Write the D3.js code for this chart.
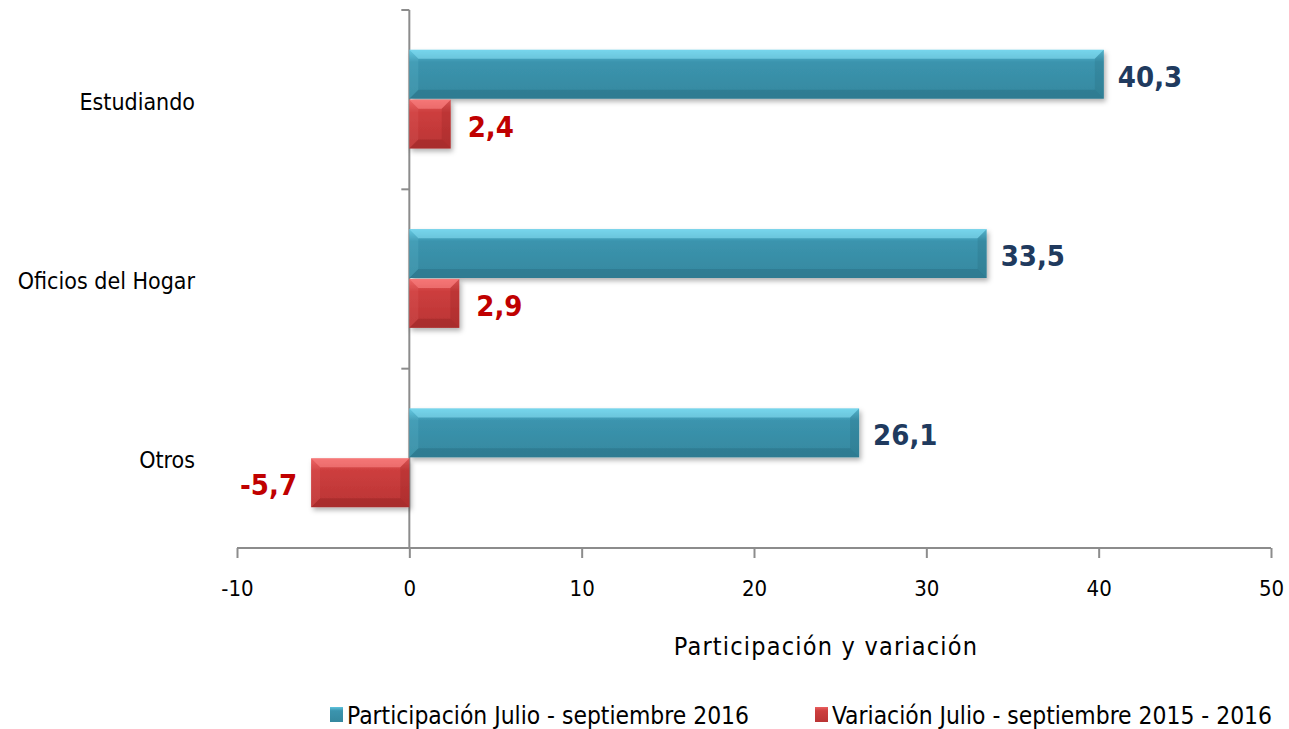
<!DOCTYPE html>
<html>
<head>
<meta charset="utf-8">
<script src="https://cdn.jsdelivr.net/npm/d3@7"></script>
<style>
body{margin:0;background:#fff;}
text{font-family:"Liberation Sans Narrow","DejaVu Sans Condensed",sans-serif;}
</style>
</head>
<body>
<svg width="1289" height="729"></svg>
<script>
// datos
var categorias = ['Estudiando','Oficios del Hogar','Otros'];
var participacion = [40.3, 33.5, 26.1];
var variacion = [2.4, 2.9, -5.7];
var ticksX = [-10,0,10,20,30,40,50];
var series = ['Participación Julio - septiembre 2016','Variación Julio - septiembre 2015 - 2016'];

var svg = d3.select('svg');
var x = d3.scaleLinear().domain([-10,50]).range([237,1271]);
var y = d3.scaleBand().domain(categorias).range([10,548]).paddingInner(0.444).paddingOuter(0.222);
var sub = d3.scaleBand().domain([0,1]).range([0,y.bandwidth()]);

var defs = svg.append('defs');
function grad(id, c1, c2, c3){
  var g = defs.append('linearGradient').attr('id',id).attr('x1',0).attr('y1',0).attr('x2',0).attr('y2',1);
  g.append('stop').attr('offset','0%').attr('stop-color',c1);
  g.append('stop').attr('offset','25%').attr('stop-color',c2);
  g.append('stop').attr('offset','100%').attr('stop-color',c3);
}
grad('gb','#5fc4de','#3b94ae','#35889f');
grad('gr','#ea6060','#cd3e3e','#ba3434');
var f = defs.append('filter').attr('id','sh').attr('x','-10%').attr('y','-20%').attr('width','130%').attr('height','160%');
f.append('feDropShadow').attr('dx',2).attr('dy',3).attr('stdDeviation',2.5).attr('flood-color','#000').attr('flood-opacity',0.3);

// ejes
var gy = svg.append('g').attr('transform','translate('+x(0)+',0)');
gy.append('line').attr('x1',0).attr('x2',0).attr('y1',10).attr('y2',548).attr('stroke','#8c8c8c').attr('stroke-width',2);
var yt = d3.range(4).map(function(i){return 10 + i*(538/3);});
gy.selectAll('.yt').data(yt).enter().append('line').attr('x1',-8).attr('x2',0).attr('y1',function(d){return d;}).attr('y2',function(d){return d;}).attr('stroke','#8c8c8c').attr('stroke-width',2);

var gx = svg.append('g').attr('transform','translate(0,548)');
var ax = d3.axisBottom(x).tickValues(ticksX).tickSize(10).tickPadding(22).tickFormat(function(d){return String(d);});
gx.call(ax);
gx.select('.domain').attr('stroke','#8c8c8c').attr('stroke-width',2).attr('d','M237,0H1271');
gx.selectAll('.tick line').attr('stroke','#8c8c8c').attr('stroke-width',2);
gx.selectAll('.tick text').attr('font-size',22).attr('fill','#000').style('font-family','"Liberation Sans Narrow","DejaVu Sans Condensed",sans-serif');

// etiquetas categorias
svg.selectAll('.cat').data(categorias).enter().append('text')
  .attr('x',195).attr('y',function(d){return y(d)+y.bandwidth()/2+10;})
  .attr('text-anchor','end').attr('font-size',23).attr('fill','#000').text(function(d){return d;});

// barras
function barra(g, x0, x1, y0, h, fill, light, dark){
  var b = 9;
  var left = Math.min(x0,x1), w = Math.abs(x1-x0);
  g.append('rect').attr('x',left).attr('y',y0).attr('width',w).attr('height',h).attr('fill','url(#'+fill+')').attr('filter','url(#sh)');
  g.append('polygon').attr('points',[[left,y0],[left+w,y0],[left+w-b,y0+b],[left+b,y0+b]].join(' ')).attr('fill',light).attr('opacity',0.55);
  g.append('polygon').attr('points',[[left,y0+h],[left+w,y0+h],[left+w-b,y0+h-b],[left+b,y0+h-b]].join(' ')).attr('fill',dark).attr('opacity',0.22);
  g.append('polygon').attr('points',[[left+w,y0],[left+w,y0+h],[left+w-b,y0+h-b],[left+w-b,y0+b]].join(' ')).attr('fill',dark).attr('opacity',0.15);
  g.append('polygon').attr('points',[[left,y0],[left,y0+h],[left+b,y0+h-b],[left+b,y0+b]].join(' ')).attr('fill',light).attr('opacity',0.12);
}
var gb = svg.append('g');
categorias.forEach(function(c,i){
  var h = sub.bandwidth();
  barra(gb, x(0), x(participacion[i]), y(c)+sub(0), h-1, 'gb', '#8ae4f8', '#1d4f5f');
  barra(gb, x(0), x(variacion[i]), y(c)+sub(1), h-1, 'gr', '#ff8a8a', '#6a1010');
});

var fmt = function(v){return v.toFixed(1).replace('.',',');};
svg.selectAll('.lp').data(participacion).enter().append('text')
  .attr('x',function(d){return x(d)+14;})
  .attr('y',function(d,i){return y(categorias[i])+sub(0)+sub.bandwidth()/2+12;})
  .attr('font-size',29).attr('font-weight','bold').attr('fill','#203a5e').text(fmt);
svg.selectAll('.lv').data(variacion).enter().append('text')
  .attr('x',function(d){return d<0 ? x(d)-14 : x(d)+17;})
  .attr('text-anchor',function(d){return d<0?'end':'start';})
  .attr('y',function(d,i){return y(categorias[i])+sub(1)+sub.bandwidth()/2+12;})
  .attr('font-size',29).attr('font-weight','bold').attr('fill','#c00000').text(fmt);

// titulo eje
svg.append('text').attr('x',826).attr('y',655).attr('text-anchor','middle').attr('font-size',25)
  .attr('letter-spacing',1.2).attr('fill','#000').text('Participación y variación');

// leyenda
var leg = [{x:330,t:series[0],f:'gb',w:402},{x:815,t:series[1],f:'gr',w:440}];
leg.forEach(function(l){
  svg.append('rect').attr('x',l.x).attr('y',707).attr('width',13).attr('height',15).attr('fill','url(#'+l.f+')');
  svg.append('text').attr('x',l.x+17).attr('y',724).attr('font-size',24).attr('fill','#000')
    .attr('textLength',l.w).attr('lengthAdjust','spacingAndGlyphs').text(l.t);
});
</script>
</body>
</html>
